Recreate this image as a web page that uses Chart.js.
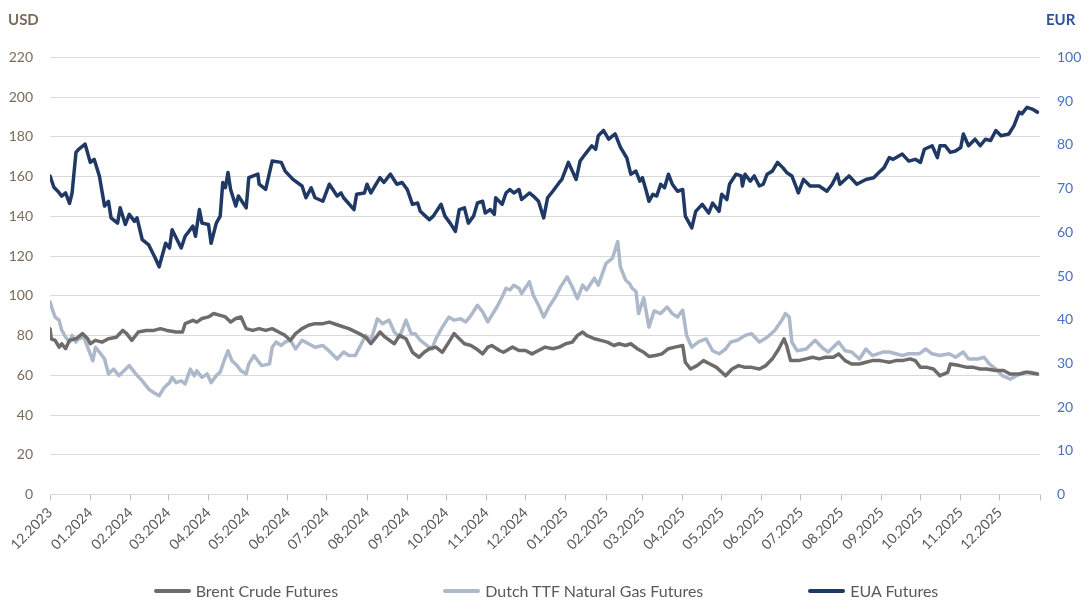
<!DOCTYPE html>
<html>
<head>
<meta charset="utf-8">
<script src="https://cdn.jsdelivr.net/npm/chart.js@4.4.1/dist/chart.umd.min.js"></script>
<style>
  html, body { margin: 0; padding: 0; background: #ffffff; }
  #wrap { position: relative; width: 1092px; height: 612px; }
  #legend { position: absolute; left: 0; top: 581px; width: 1092px; display: flex; justify-content: center; gap: 105px;
            font-family: Lato, "Open Sans", sans-serif; font-size: 16px; color: #595959; }
  .item { display: flex; align-items: center; white-space: nowrap; }
  .swatch { width: 37px; height: 4px; border-radius: 2px; margin-right: 5px; }
</style>
</head>
<body>
<div id="wrap">
  <canvas id="c"></canvas>
  <div id="legend"></div>
</div>
<script>
// ---------- DATA ----------
const startDate = '2023-12-01';           // day 0 of the x axis
const axisEndDate = '2026-01-01';
const monthLabels = ['12.2023','01.2024','02.2024','03.2024','04.2024','05.2024','06.2024','07.2024','08.2024',
  '09.2024','10.2024','11.2024','12.2024','01.2025','02.2025','03.2025','04.2025','05.2025','06.2025',
  '07.2025','08.2025','09.2025','10.2025','11.2025','12.2025'];
const leftTicks = [0,20,40,60,80,100,120,140,160,180,200,220];
const rightTicks = [0,10,20,30,40,50,60,70,80,90,100];
const seriesNames = ['Brent Crude Futures', 'Dutch TTF Natural Gas Futures', 'EUA Futures'];

// Brent Crude Futures (USD, left axis); days since startDate
const brentDays = [0,1,4,7,9,12,15,20,25,29,31,35,40,45,51,56,59,63,68,74,80,85,90,97,102,104,110,113,117,122,126,131,135,139,143,147,151,156,161,166,171,176,181,185,189,194,199,204,210,215,222,230,238,243,247,251,254,258,265,269,274,279,284,288,292,297,302,307,311,315,319,324,328,333,337,340,346,349,356,361,366,371,376,381,387,392,397,402,406,410,413,419,424,429,434,438,443,447,452,457,461,466,471,476,481,487,489,493,498,503,508,513,520,525,530,535,540,546,551,556,561,565,567,570,576,582,587,592,597,603,607,612,617,623,628,633,639,646,651,656,662,666,670,675,680,685,691,693,700,706,711,716,721,728,734,739,746,752,760];
const brentValues = [83.5,78.4,77.6,74.2,75.9,73.4,77.6,78.4,81,78.4,75.9,77.6,76.7,78.4,79.2,82.6,81,77.6,81.8,82.6,82.6,83.5,82.6,81.8,81.8,86,87.7,86.8,88.6,89.4,91.1,90.2,89.4,86.8,88.6,89.4,83.5,82.6,83.5,82.6,83.5,81.8,80.1,77.6,81,83.5,85.2,86,86,86.8,85.2,83.5,81,79.2,75.9,79.2,81.8,79.2,75.9,80.1,78.4,71.6,69.1,71.6,73.4,74.2,71.6,76.7,81,78.4,75.9,75,73.4,70.8,74.2,75,72.5,71.6,74.2,72.5,72.5,70.8,72.5,74.2,73.4,74.2,75.9,76.7,80.1,81.8,80.1,78.4,77.6,76.7,75,75.9,75,75.9,73.4,71.6,69.5,70,70.8,73.4,74.2,75,66.6,63.2,64.9,67.4,65.7,64,59.8,63.2,64.9,64,64,63.2,64.9,68.3,73.4,78.4,75,67.4,67.4,68.3,69.1,68.3,69.1,69.1,70.8,67.4,65.7,65.7,66.6,67.4,67.4,66.6,67.4,67.4,68.3,67.4,64,64,63.2,59.8,61.5,65.7,64.9,64,64,63.2,63.2,62.4,62.4,60.7,60.7,61.5,60.7];

// Dutch TTF Natural Gas Futures (EUR, right axis)
const ttfDays = [0,2,4,7,9,12,15,17,20,22,26,30,33,35,38,42,45,49,53,57,61,66,71,76,80,84,88,92,94,97,101,104,108,111,113,117,121,124,128,131,134,137,140,144,147,151,153,157,160,163,169,171,174,178,181,185,189,194,199,204,210,215,221,226,230,235,239,243,247,252,256,261,265,269,274,278,281,285,290,294,297,302,307,311,316,320,324,329,333,337,340,344,348,351,354,357,361,363,369,372,376,380,384,389,393,398,402,406,410,413,419,422,428,433,437,439,443,446,448,451,453,457,461,465,470,475,479,483,487,490,494,499,505,510,515,520,524,529,535,540,546,552,558,564,566,569,571,575,582,589,594,599,607,612,617,623,628,633,641,646,651,656,661,669,674,679,685,692,697,703,707,714,719,723,728,733,739,744,750,755,760];
const ttfValues = [44.1,42.2,40.6,39.9,37.6,36,34.9,36.4,34.9,35.6,36,32.9,30.6,33.7,32.6,31,27.6,28.7,27.2,28.3,29.5,27.6,26,24.1,23.3,22.6,24.5,25.6,26.8,25.6,26,25.3,28.7,27.2,28.3,26.8,27.6,25.6,27.2,28,30.6,32.9,30.6,29.5,28.3,27.6,29.9,31.8,30.6,29.5,29.9,33.7,34.9,34.1,34.9,35.3,33.3,35.3,34.5,33.7,34.1,32.8,31,32.6,31.8,31.8,34.1,36.4,35.3,40.2,39.1,39.9,37.2,36,39.9,36.8,36.8,35.3,34.1,33.3,35.6,38.3,40.6,39.9,40.2,39.5,41,43.3,41.8,39.5,41,42.9,45.2,47.2,46.8,47.9,47.2,46,48.7,45.6,43.3,40.6,42.9,45.2,47.5,49.8,47.5,44.8,47.9,46.8,49.5,47.9,52.9,54.1,57.9,52.1,49.1,48.3,47.2,46.5,41.4,45,38.3,42,41.4,42.9,41.4,40.6,42.2,36.4,33.7,34.9,35.6,32.9,32.2,33.3,34.9,35.3,36.4,36.8,34.9,36,37.6,40.2,41.4,40.6,34.9,32.9,33.3,35.3,33.7,32.6,34.9,32.9,32.6,31,33.3,31.8,32.6,32.6,32.2,31.8,32.2,32.2,33.3,32.2,31.8,32.2,31.4,32.6,31,31,31.4,29.9,28.7,27.2,26.4,27.2,28,28,27.6];

// EUA Futures (EUR, right axis)
const euaDays = [0,3,6,9,12,15,17,20,22,27,31,34,38,42,45,47,52,54,58,61,65,67,71,76,81,84,89,92,94,101,104,110,112,115,117,122,124,128,131,133,135,137,139,143,145,151,153,160,161,166,171,178,181,187,194,197,201,204,210,215,221,224,226,234,236,242,244,247,251,254,257,262,267,271,275,279,283,285,289,292,295,301,304,308,312,315,319,322,326,329,333,335,339,342,343,348,351,354,357,361,363,369,372,376,380,383,387,392,394,399,405,408,412,417,420,422,426,430,435,439,444,447,451,454,456,459,461,464,467,470,473,476,479,483,487,489,494,497,502,507,510,515,517,521,523,528,532,533,535,539,542,546,549,552,556,560,564,567,571,574,576,580,585,592,598,602,606,608,615,621,628,634,638,642,646,649,656,661,666,670,673,679,683,685,689,693,697,701,703,707,712,716,720,724,728,732,738,742,746,748,752,756,760];
const euaValues = [72.9,70.3,69.4,68.3,69,66.6,69,78.3,79,80.2,76,76.7,72.9,66,67.1,63.3,62.1,65.6,61.8,64.1,62.5,63.3,58.3,57.1,54.1,52.1,57.5,56.4,60.6,56.4,59.1,61.4,59.1,65.2,62.1,61.8,57.5,62.1,63.7,71.4,70.2,73.7,69.8,66,68.3,65.6,72.5,73.3,71,69.8,76.3,76,74,72.1,70.6,67.9,70.2,67.9,67.1,71,68.3,69,67.9,65.2,68.7,69,71,69,71,72.5,71.4,73.3,71,71.4,69.8,66.4,66.7,64.8,63.7,62.9,63.7,66.4,63.7,62.1,60.2,65.2,65.6,62.1,63.7,66.7,67.1,64.4,65.2,64.1,67.9,66.4,69,69.8,69,69.8,67.5,69,68.3,67.1,63.3,67.9,69.4,71.4,72.1,76,72.1,76.3,77.9,79.8,79,82.1,83.3,81.3,82.5,79.5,77,73.3,74,71.7,72.5,69.4,67.1,68.7,68.3,71,70.2,73.3,71,69.4,69.8,63.7,61,64.8,66.4,64.4,66.7,64.8,68.7,67.5,71,73.3,72.9,70.6,73.3,71.7,72.9,70.6,71,73.3,74,76,74.8,73.7,72.9,70.6,69,72.1,70.6,70.6,69.4,71,73.3,71,72.9,71,72.1,72.5,73.7,74.8,77.1,76.7,77.9,76.3,76.7,76,79,79.8,77.1,79.8,79.8,78.3,78.6,79.4,82.5,79.8,81.3,79.8,81.3,81,83.3,82.1,82.5,84.4,87.5,87.1,88.6,88.2,87.5];

// ---------- BUILD ----------
const DAY = 86400000;
const t0 = Date.parse(startDate + 'T00:00:00Z');
const dayOf = (y, m) => Math.round((Date.UTC(y, m - 1, 1) - t0) / DAY);
const monthTicks = monthLabels.map(l => { const [m, y] = l.split('.').map(Number); return dayOf(y, m); });
const axisEnd = Math.round((Date.parse(axisEndDate + 'T00:00:00Z') - t0) / DAY);
const tickLabelByDay = {};
monthTicks.forEach((d, i) => { tickLabelByDay[d] = monthLabels[i]; });
const allTicks = monthTicks.concat([axisEnd]);

const pts = (days, vals) => days.map((d, i) => ({ x: d, y: vals[i] }));
const colors = ['#6f6b6b', '#adb9ca', '#1f3864'];

const unitLabels = {
  id: 'unitLabels',
  afterDraw(chart) {
    const ctx = chart.ctx;
    ctx.save();
    ctx.font = 'bold 15px Lato, "Open Sans", sans-serif';
    ctx.textBaseline = 'middle';
    ctx.textAlign = 'left';
    ctx.fillStyle = '#7a6c5a';
    ctx.fillText('USD', 8, 20);
    ctx.fillStyle = '#2f5597';
    ctx.fillText('EUR', 1046, 20);
    ctx.restore();
  }
};

const chart = new Chart(document.getElementById('c'), {
  type: 'line',
  data: {
    datasets: [
      { label: seriesNames[0], data: pts(brentDays, brentValues), borderColor: colors[0], yAxisID: 'y' },
      { label: seriesNames[1], data: pts(ttfDays, ttfValues), borderColor: colors[1], yAxisID: 'y1' },
      { label: seriesNames[2], data: pts(euaDays, euaValues), borderColor: colors[2], yAxisID: 'y1' }
    ]
  },
  options: {
    responsive: true,
    maintainAspectRatio: false,
    animation: false,
    parsing: true,
    elements: { line: { borderWidth: 3.5, tension: 0, borderJoinStyle: 'round', borderCapStyle: 'round' }, point: { radius: 0 } },
    layout: { padding: { top: 57.5, left: 0, right: 0, bottom: 37.5 } },
    plugins: { legend: { display: false }, tooltip: { enabled: false } },
    scales: {
      x: {
        type: 'linear', min: 0, max: axisEnd,
        afterBuildTicks: s => { s.ticks = allTicks.map(v => ({ value: v })); },
        afterFit: s => { s.height = 80; },
        ticks: {
          autoSkip: false, maxRotation: 45, minRotation: 45, padding: 4,
          color: '#595959', font: { family: 'Lato', size: 14 },
          callback: v => (tickLabelByDay[v] !== undefined ? tickLabelByDay[v] : '')
        },
        grid: { display: true, drawOnChartArea: false, drawTicks: true, tickLength: 6, color: '#bfbfbf' },
        border: { display: true, color: '#d9d9d9', width: 1 }
      },
      y: {
        position: 'left', min: 0, max: 220,
        afterBuildTicks: s => { s.ticks = leftTicks.map(v => ({ value: v })); },
        afterFit: s => { s.width = 50; },
        ticks: { color: '#7a6c5a', font: { family: 'Lato', size: 14 }, padding: 17 },
        grid: { color: '#d9d9d9', drawTicks: false, lineWidth: 1 },
        border: { display: false }
      },
      y1: {
        position: 'right', min: 0, max: 100,
        afterBuildTicks: s => { s.ticks = rightTicks.map(v => ({ value: v })); },
        afterFit: s => { s.width = 52; },
        ticks: { color: '#4472c4', font: { family: 'Lato', size: 14 }, padding: 17 },
        grid: { drawOnChartArea: false, drawTicks: false },
        border: { display: false }
      }
    }
  },
  plugins: [unitLabels]
});

// HTML legend
const legend = document.getElementById('legend');
seriesNames.forEach((name, i) => {
  const it = document.createElement('div');
  it.className = 'item';
  const sw = document.createElement('span');
  sw.className = 'swatch';
  sw.style.background = colors[i];
  const tx = document.createElement('span');
  tx.textContent = name;
  it.appendChild(sw); it.appendChild(tx);
  legend.appendChild(it);
});
</script>
</body>
</html>
